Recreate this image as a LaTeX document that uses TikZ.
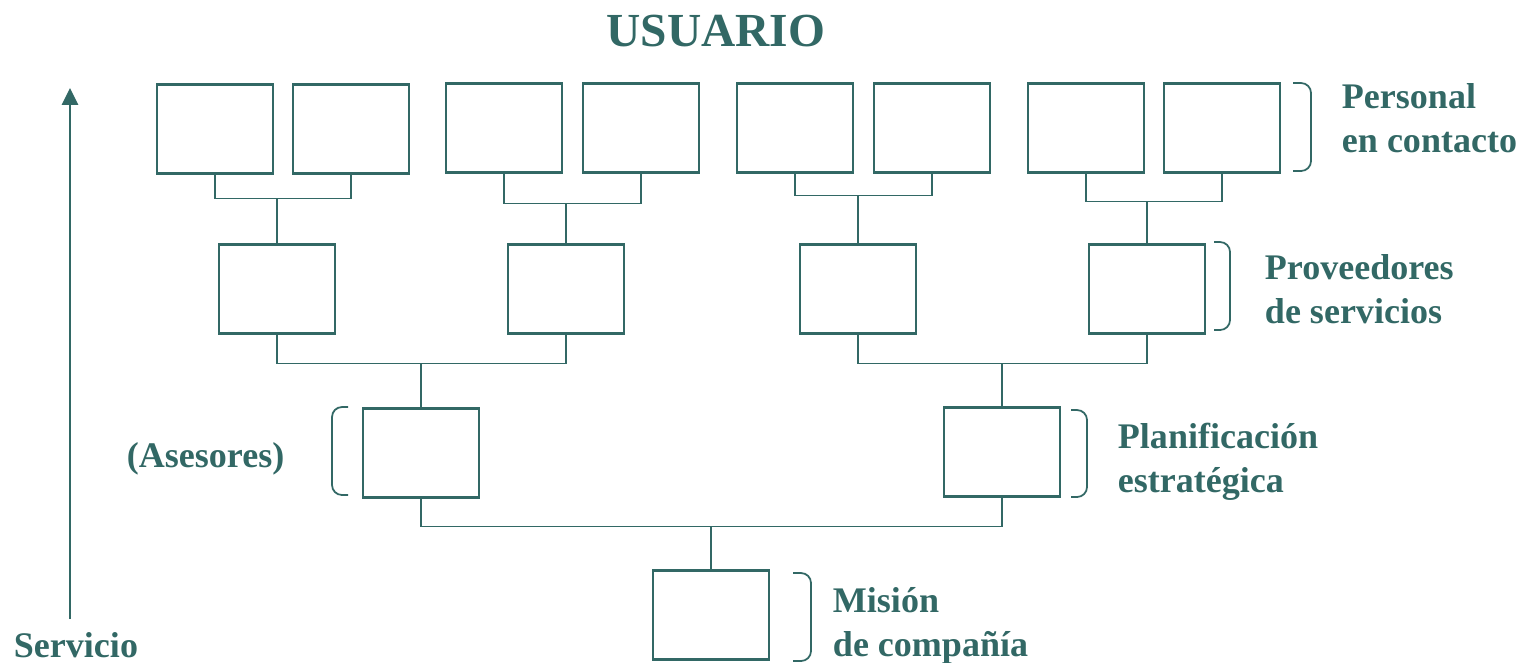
\documentclass[tikz,border=0pt]{standalone}
\usepackage{fontspec}
\setmainfont{Liberation Serif}
\usetikzlibrary{arrows.meta}
\definecolor{verde}{RGB}{50,104,101}
\begin{document}
\begin{tikzpicture}[x=0.02cm,y=-0.02cm,line width=1.1pt,color=verde,
	caja/.style={draw,line width=1.2pt,minimum width=2.32cm,minimum height=1.78cm,inner sep=0pt,outer sep=0pt},
	llave/.style={line width=1pt,rounded corners=0.2cm},
	rotulo/.style={font=\bfseries\fontsize{20.5}{24.6}\selectfont,align=left,anchor=base west,inner sep=0pt}]
\useasboundingbox (0,0) rectangle (1529,663);
\node[font=\bfseries\fontsize{27}{30}\selectfont,anchor=base,inner sep=0pt] (usuario) at (716,46) {USUARIO};
% personal en contacto
\node[caja] (p1) at (215,129) {};
\node[caja] (p2) at (351,129) {};
\node[caja] (p3) at (504,128) {};
\node[caja] (p4) at (641,128) {};
\node[caja] (p5) at (795,128) {};
\node[caja] (p6) at (932,128) {};
\node[caja] (p7) at (1086,128) {};
\node[caja] (p8) at (1222,128) {};
% proveedores de servicios
\node[caja] (s1) at (277,289) {};
\node[caja] (s2) at (566,289) {};
\node[caja] (s3) at (858,289) {};
\node[caja] (s4) at (1147,289) {};
% planificacion
\node[caja] (a) at (421,453) {};
\node[caja] (e) at (1002,452) {};
% mision
\node[caja] (m) at (711,615) {};
% uniones
\draw (p1.south) -- ++(0,25) coordinate (j1) -| (p2.south);
\draw (s1.north) -- (s1.north |- j1);
\draw (p3.south) -- ++(0,31) coordinate (j2) -| (p4.south);
\draw (s2.north) -- (s2.north |- j2);
\draw (p5.south) -- ++(0,23) coordinate (j3) -| (p6.south);
\draw (s3.north) -- (s3.north |- j3);
\draw (p7.south) -- ++(0,29) coordinate (j4) -| (p8.south);
\draw (s4.north) -- (s4.north |- j4);
\draw (s1.south) -- ++(0,30) coordinate (j5) -| (s2.south);
\draw (a.north) -- (a.north |- j5);
\draw (s3.south) -- ++(0,30) coordinate (j6) -| (s4.south);
\draw (e.north) -- (e.north |- j6);
\draw (a.south) -- ++(0,29) coordinate (j7) -| (e.south);
\draw (m.north) -- (m.north |- j7);
% llaves
\draw[llave] (1293,83) -- (1311,83) -- (1311,171) -- (1293,171);
\draw[llave] (1214,242) -- (1230,242) -- (1230,330) -- (1214,330);
\draw[llave] (1071,410) -- (1087,410) -- (1087,497) -- (1071,497);
\draw[llave] (793,573) -- (811,573) -- (811,661) -- (793,661);
\draw[llave] (348,407) -- (332,407) -- (332,495) -- (348,495);
% rotulos
\node[rotulo] (personal) at (1341,152) {Personal\\en contacto};
\node[rotulo] (proveedores) at (1264,323) {Proveedores\\de servicios};
\node[rotulo] (planificacion) at (1117,492) {Planificación\\estratégica};
\node[rotulo] (mision) at (832,656) {Misión\\de compañía};
\node[rotulo] (asesores) at (126,467) {(Asesores)};
% eje de servicio
\coordinate (s0) at (70,619);
\coordinate (s9) at (70,88);
\draw[line width=0.9pt,-{Triangle[length=0.34cm,width=0.33cm]}] (s0) -- (s9);
\node[rotulo] (servicio) at (13,657) {Servicio};
\end{tikzpicture}
\end{document}
